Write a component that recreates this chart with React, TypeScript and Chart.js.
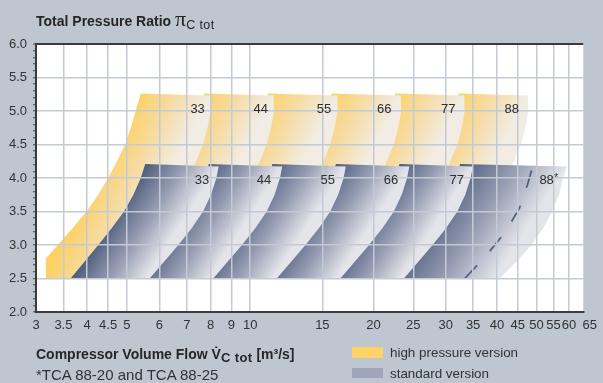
import React, { useEffect, useRef } from 'react';
import { Chart, registerables } from 'chart.js';

Chart.register(...registerables);

// ---------- axis ticks ----------
const xTickValues = [3, 3.5, 4, 4.5, 5, 6, 7, 8, 9, 10, 15, 20, 25, 30, 35, 40, 45, 50, 55, 60, 65];
const yMin = 2;
const yMax = 6;

// ---------- standard version (blue) fields ----------
const stdLeftY = [2.5, 2.75, 3.0, 3.25, 3.5, 3.75, 4.0, 4.21];
const stdRightY = [4.17, 4.0, 3.75, 3.5, 3.25, 3.0, 2.75, 2.5];
const std33Left = [3.644, 3.939, 4.257, 4.589, 4.919, 5.186, 5.406, 5.543];
const std33Right = [8.372, 8.27, 8.021, 7.672, 7.198, 6.677, 6.16, 5.684];
const std44Left = [5.209, 5.63, 6.085, 6.56, 7.031, 7.413, 7.727, 7.923];
const std44Right = [11.97, 11.82, 11.47, 10.97, 10.29, 9.544, 8.805, 8.125];
const std55Left = [7.445, 8.048, 8.698, 9.376, 10.05, 10.6, 11.05, 11.33];
const std55Right = [17.11, 16.9, 16.39, 15.68, 14.71, 13.64, 12.59, 11.61];
const std66Left = [10.64, 11.5, 12.43, 13.4, 14.37, 15.15, 15.79, 16.19];
const std66Right = [24.45, 24.15, 23.43, 22.41, 21.02, 19.5, 17.99, 16.6];
const std77Left = [15.21, 16.44, 17.77, 19.16, 20.54, 21.65, 22.57, 23.14];
const std77Right = [34.95, 34.52, 33.49, 32.03, 30.05, 27.87, 25.72, 23.73];
const std88Left = [21.39, 23.12, 24.98, 26.93, 28.87, 30.44, 31.73, 32.53];
const std88Right = [59.29, 57.98, 56.71, 54.55, 51.89, 48.54, 44.66, 40.64];

// dashed limit inside the 88 field (TCA 88-20 / 88-25)
const dashX = [33.4, 37.4, 41.8, 45.4, 47.5, 48.8];
const dashY = [2.5, 2.82, 3.18, 3.55, 3.9, 4.15];

// ---------- high pressure version (yellow) fields ----------
const hpLeftY = [2.5, 2.8, 3.0, 3.25, 3.5, 3.75, 4.0, 4.25, 4.5, 4.75, 5.0, 5.26];
const hpRightY = [5.23, 5.0, 4.75, 4.5, 4.25, 4.0, 3.5, 3.0, 2.5];
const hp33Left = [3.171, 3.171, 3.39, 3.685, 3.983, 4.257, 4.501, 4.731, 4.947, 5.114, 5.25, 5.406];
const hp33Right = [7.977, 7.999, 7.867, 7.672, 7.38, 7.059, 6.351, 5.59, 4.784];
const hp44Left = [4.533, 4.533, 4.846, 5.267, 5.693, 6.085, 6.434, 6.762, 7.071, 7.31, 7.504, 7.727];
const hp44Right = [11.4, 11.43, 11.25, 10.97, 10.55, 10.09, 9.078, 7.99, 6.838];
const hp55Left = [6.479, 6.479, 6.926, 7.529, 8.138, 8.698, 9.196, 9.666, 10.11, 10.45, 10.73, 11.05];
const hp55Right = [16.3, 16.34, 16.07, 15.68, 15.08, 14.42, 12.98, 11.42, 9.775];
const hp66Left = [9.261, 9.261, 9.9, 10.76, 11.63, 12.43, 13.15, 13.82, 14.45, 14.94, 15.33, 15.79];
const hp66Right = [23.3, 23.36, 22.98, 22.41, 21.55, 20.62, 18.55, 16.33, 13.97];
const hp77Left = [13.24, 13.24, 14.15, 15.38, 16.63, 17.77, 18.79, 19.75, 20.65, 21.35, 21.92, 22.57];
const hp77Right = [33.3, 33.39, 32.84, 32.03, 30.81, 29.47, 26.51, 23.34, 19.97];
const hp88Left = [18.92, 18.92, 20.23, 21.99, 23.77, 25.4, 26.86, 28.23, 29.52, 30.52, 31.33, 32.26];
const hp88Right = [47.6, 47.73, 46.94, 45.78, 44.04, 42.12, 37.9, 33.36, 28.55];

// ---------- field labels ----------
const sizeNames = ['33', '44', '55', '66', '77', '88'];
const hpLabelX = [7.44, 10.61, 15.14, 21.25, 30.43, 43.5];
const hpLabelY = 5.03;
const stdLabelX = [7.63, 10.81, 15.45, 22.05, 31.94, 52.9];
const stdLabelY = 3.97;
const footnoteMark = '*';

// ---------- styles ----------
const FONT = '"Liberation Sans", Arial, Helvetica, sans-serif';
const BG = '#bec6cf';
const GRID = '#c3cad4';
const AXIS = '#3b3b3b';
const stdStops: [number, string][] = [[0, '#4b5b7c'], [0.55, '#9aa0b5'], [1, '#e4e5ea']];
const hpStops: [number, string][] = [[0, '#fdd167'], [0.5, '#f6dca4'], [1, '#f1ece4']];

function toPoints(leftX: number[], leftY: number[], rightX: number[], rightY: number[]) {
  const pts = leftX.map((x, i) => ({ x, y: leftY[i] }));
  return pts.concat(rightX.map((x, i) => ({ x, y: rightY[i] })));
}

function gradientFor(stops: [number, string][]) {
  return (ctx: any) => {
    const chart = ctx.chart;
    if (!chart.chartArea || ctx.datasetIndex === undefined) return stops[0][1];
    const ds = chart.data.datasets[ctx.datasetIndex];
    const pts = ds.data;
    const nl = ds.leftCount;
    const xs = chart.scales.x;
    const ys = chart.scales.y;
    const P = (p: any) => [xs.getPixelForValue(p.x), ys.getPixelForValue(p.y)];
    const [blx, bly] = P(pts[0]);
    const [tlx, tly] = P(pts[nl - 1]);
    const [trx, tr_y] = P(pts[nl]);
    const ex = tlx - blx;
    const ey = tly - bly;
    const len = Math.hypot(ex, ey) || 1;
    const nx = -ey / len;
    const ny = ex / len;
    const w = (trx - tlx) * nx + (tr_y - tly) * ny;
    const g = chart.ctx.createLinearGradient(tlx, tly, tlx + nx * w, tly + ny * w);
    stops.forEach(([o, c]) => g.addColorStop(o, c));
    return g;
  };
}

function field(leftX: number[], leftY: number[], rightX: number[], rightY: number[], stops: [number, string][]) {
  return {
    data: toPoints(leftX, leftY, rightX, rightY),
    leftCount: leftX.length,
    fill: 'shape',
    backgroundColor: gradientFor(stops),
    borderWidth: 0,
    borderColor: 'rgba(0,0,0,0)',
    pointRadius: 0,
    tension: 0,
  } as any;
}

const isMajor = (v: number) => Math.abs(v * 2 - Math.round(v * 2)) < 1e-6;
const near = (a: number, b: number) => Math.abs(a - b) < 1e-6;

const plotBackground = {
  id: 'plotBackground',
  beforeDraw(chart: any) {
    const { ctx, chartArea: a } = chart;
    ctx.save();
    ctx.fillStyle = '#ffffff';
    ctx.fillRect(a.left, a.top, a.right - a.left, a.bottom - a.top);
    ctx.restore();
  },
};

const fieldLabels = {
  id: 'fieldLabels',
  afterDraw(chart: any) {
    const { ctx } = chart;
    const xs = chart.scales.x;
    const ys = chart.scales.y;
    ctx.save();
    ctx.font = `13px ${FONT}`;
    ctx.fillStyle = '#2e2e2e';
    ctx.textAlign = 'center';
    ctx.textBaseline = 'middle';
    sizeNames.forEach((s, i) => {
      ctx.fillText(s, xs.getPixelForValue(hpLabelX[i]), ys.getPixelForValue(hpLabelY));
      ctx.fillText(s, xs.getPixelForValue(stdLabelX[i]), ys.getPixelForValue(stdLabelY));
    });
    const last = sizeNames.length - 1;
    const lx = xs.getPixelForValue(stdLabelX[last]);
    const w = ctx.measureText(sizeNames[last]).width;
    ctx.font = `10px ${FONT}`;
    ctx.textAlign = 'left';
    ctx.fillText(footnoteMark, lx + w / 2 + 0.5, ys.getPixelForValue(stdLabelY) - 2);
    ctx.restore();
  },
};

export default function App() {
  const ref = useRef<HTMLCanvasElement>(null);

  useEffect(() => {
    document.body.style.margin = '0';
    const datasets: any[] = [
      field(std33Left, stdLeftY, std33Right, stdRightY, stdStops),
      field(std44Left, stdLeftY, std44Right, stdRightY, stdStops),
      field(std55Left, stdLeftY, std55Right, stdRightY, stdStops),
      field(std66Left, stdLeftY, std66Right, stdRightY, stdStops),
      field(std77Left, stdLeftY, std77Right, stdRightY, stdStops),
      {
        data: dashX.map((x, i) => ({ x, y: dashY[i] })),
        fill: false,
        borderColor: '#52617e',
        borderWidth: 1.8,
        borderDash: [18, 19],
        pointRadius: 0,
        tension: 0,
      },
      field(std88Left, stdLeftY, std88Right, stdRightY, stdStops),
      field(hp33Left, hpLeftY, hp33Right, hpRightY, hpStops),
      field(hp44Left, hpLeftY, hp44Right, hpRightY, hpStops),
      field(hp55Left, hpLeftY, hp55Right, hpRightY, hpStops),
      field(hp66Left, hpLeftY, hp66Right, hpRightY, hpStops),
      field(hp77Left, hpLeftY, hp77Right, hpRightY, hpStops),
      field(hp88Left, hpLeftY, hp88Right, hpRightY, hpStops),
    ];

    const chart = new Chart(ref.current as HTMLCanvasElement, {
      type: 'line',
      data: { datasets },
      plugins: [plotBackground, fieldLabels],
      options: {
        animation: false,
        responsive: false,
        devicePixelRatio: 1,
        events: [],
        layout: { padding: { top: 44, right: 14, left: 0, bottom: 0 } },
        plugins: { legend: { display: false }, tooltip: { enabled: false } },
        elements: { point: { radius: 0 }, line: { tension: 0 } },
        scales: {
          x: {
            type: 'logarithmic',
            min: 3,
            max: 65,
            afterBuildTicks: (axis: any) => {
              axis.ticks = xTickValues.map((v) => ({ value: v }));
            },
            afterFit: (s: any) => {
              s.height = 71;
            },
            grid: {
              z: 1,
              drawTicks: false,
              color: (c: any) => {
                const v = c.tick ? c.tick.value : 0;
                if (near(v, 3) || near(v, 65)) return 'rgba(0,0,0,0)';
                return GRID;
              },
              lineWidth: 1.5,
            },
            border: { color: AXIS, width: 2, z: 2 },
            ticks: {
              autoSkip: false,
              maxRotation: 0,
              minRotation: 0,
              padding: 6,
              color: '#333',
              font: { family: FONT, size: 13 },
              callback: (v: any) => (near(Number(v), 65) ? '\u2003' + '65' : String(Number(v))),
            },
          },
          y: {
            type: 'linear',
            min: yMin,
            max: yMax,
            afterFit: (s: any) => {
              s.width = 36;
            },
            grid: {
              z: 1,
              drawTicks: true,
              tickLength: 3,
              tickWidth: 1,
              tickColor: '#444',
              color: (c: any) => {
                const v = c.tick ? c.tick.value : 0;
                if (near(v, yMax)) return AXIS;
                if (near(v, yMin)) return 'rgba(0,0,0,0)';
                return isMajor(v) ? GRID : 'rgba(0,0,0,0)';
              },
              lineWidth: (c: any) => {
                const v = c.tick ? c.tick.value : 0;
                return near(v, yMax) ? 2 : 1.5;
              },
            },
            border: { color: AXIS, width: 2, z: 2 },
            ticks: {
              stepSize: 0.1,
              autoSkip: false,
              padding: 6,
              color: '#333',
              font: { family: FONT, size: 13 },
              callback: (v: any) => (isMajor(Number(v)) ? Number(v).toFixed(1) : ''),
            },
          },
        },
      } as any,
    });
    return () => chart.destroy();
  }, []);

  const sub = { fontSize: 13, fontWeight: 700, letterSpacing: '0.4px', position: 'relative' as const, top: 3 };

  return (
    <div
      style={{
        position: 'fixed',
        left: 0,
        top: 0,
        width: 603,
        height: 383,
        background: BG,
        overflow: 'hidden',
        fontFamily: FONT,
        color: '#262626',
      }}
    >
      <canvas ref={ref} width={603} height={383} style={{ position: 'absolute', left: 0, top: 0, width: 603, height: 383 }} />
      <div style={{ position: 'absolute', left: 36, top: 11, fontSize: 14, fontWeight: 700, lineHeight: '16px', whiteSpace: 'nowrap' }}>
        Total Pressure Ratio{' '}
        <span style={{ fontFamily: '"Liberation Serif", "DejaVu Serif", serif', fontWeight: 400, fontSize: 22, lineHeight: '16px' }}>π</span>
        <span style={{ ...sub, fontWeight: 400, fontSize: 12.5 }}>C tot</span>
      </div>
      <div style={{ position: 'absolute', left: 36, top: 346, fontSize: 14, fontWeight: 700, lineHeight: '16px', whiteSpace: 'nowrap' }}>
        Compressor Volume Flow V{'\u0307'}
        <span style={sub}>C tot</span> [m³/s]
      </div>
      <div style={{ position: 'absolute', left: 36, top: 366, fontSize: 15, lineHeight: '17px', whiteSpace: 'nowrap', color: '#333' }}>
        *TCA 88-20 and TCA 88-25
      </div>
      <div style={{ position: 'absolute', left: 352, top: 347, width: 31, height: 11, background: '#ffd466' }} />
      <div style={{ position: 'absolute', left: 390, top: 345, fontSize: 13.4, lineHeight: '16px', whiteSpace: 'nowrap', color: '#333' }}>
        high pressure version
      </div>
      <div style={{ position: 'absolute', left: 352, top: 368, width: 31, height: 10, background: '#9fa6b9' }} />
      <div style={{ position: 'absolute', left: 390, top: 366, fontSize: 13.4, lineHeight: '16px', whiteSpace: 'nowrap', color: '#333' }}>
        standard version
      </div>
    </div>
  );
}
